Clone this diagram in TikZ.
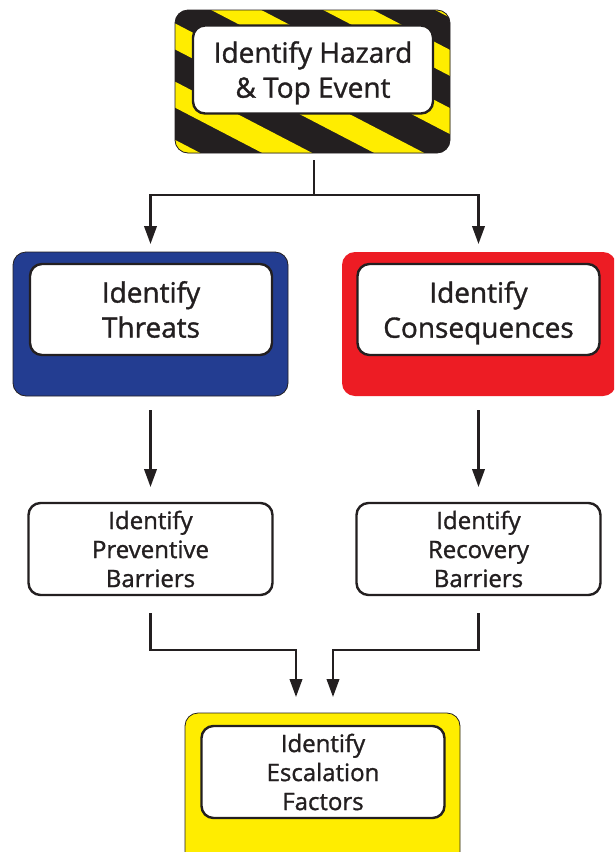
\documentclass[tikz,border=0pt]{standalone}
\usepackage{fontspec}
\setmainfont{Open Sans}[FakeBold=1.2]
\usetikzlibrary{arrows.meta,calc}
\definecolor{ink}{HTML}{231F20}
\definecolor{hazY}{HTML}{FFED00}
\definecolor{thrB}{HTML}{233D91}
\definecolor{conR}{HTML}{ED1C24}
\newcommand{\nodepth}[1]{\raisebox{0pt}[\height][0pt]{#1}}
\begin{document}
\begin{tikzpicture}[x=1pt,y=-1pt,
  outerbox/.style={rectangle, rounded corners=13pt, inner sep=0pt, outer sep=0pt},
  innerbox/.style={rectangle, rounded corners=12pt, draw=ink, line width=2.4pt, fill=white,
    align=center, text=ink, inner sep=0pt, outer sep=0pt},
  bigtext/.style={font=\fontsize{28}{35}\selectfont},
  smalltext/.style={font=\fontsize{24}{29}\selectfont},
  conn/.style={line width=2.3pt, draw=ink, -{Triangle[length=18pt,width=12.5pt]}}]
\clip (0,0) rectangle (614,852);
\fill[white] (0,0) rectangle (614,852);

% Hazard box
\node[outerbox, fill=ink, minimum width=275pt, minimum height=143pt] (hazO) at (312.5,81.5) {};
\begin{scope}
  \clip[rounded corners=13pt] (hazO.south west) rectangle (hazO.north east);
  \foreach \k in {-3,...,4} {
    \pgfmathsetmacro{\c}{80+112*\k}
    \fill[hazY] (\c,0) -- (\c+50,0) -- (\c+50+327,170) -- (\c+327,170) -- cycle;
  }
\end{scope}
\draw[ink, line width=0.8pt, rounded corners=13pt] (hazO.south west) rectangle (hazO.north east);
\node[innerbox, bigtext, minimum width=240pt, minimum height=88pt] (hazI) at (313,69.5) {Identify Hazard\\\nodepth{\& Top Event}};

% Threats
\node[outerbox, fill=thrB, draw=ink, line width=0.8pt, minimum width=275pt, minimum height=144pt] (blueO) at (150.5,324) {};
\node[innerbox, bigtext, minimum width=242pt, minimum height=91pt] (blueI) at (151,309.5) {Identify\\Threats};

% Consequences
\node[outerbox, fill=conR, minimum width=274pt, minimum height=144pt] (redO) at (479,324) {};
\node[innerbox, bigtext, minimum width=242pt, minimum height=91pt] (redI) at (478.5,309.5) {Identify\\\nodepth{Consequences}};

% Barriers
\node[innerbox, smalltext, minimum width=244pt, minimum height=92pt] (prevB) at (150.5,549) {Identify\\Preventive\\Barriers};
\node[innerbox, smalltext, minimum width=244pt, minimum height=92pt] (recB) at (478.5,549) {Identify\\Recovery\\Barriers};

% Escalation
\node[outerbox, fill=hazY, draw=ink, line width=0.8pt, minimum width=275pt, minimum height=160pt] (yelO) at (322.5,793) {};
\node[innerbox, smalltext, minimum width=243pt, minimum height=92pt] (yelI) at (323,772) {Identify\\Escalation\\Factors};

% Connectors
\draw[conn, shorten <=7pt, shorten >=8pt] ([xshift=1.5pt]hazO.south) -- ++(0,42) -| (blueO.north);
\draw[conn, shorten <=7pt, shorten >=8pt] ([xshift=1.5pt]hazO.south) -- ++(0,42) -| (recB.north |- redO.north);
\draw[conn, shorten <=14pt, shorten >=16pt] (blueO.south) -- (prevB.north);
\draw[conn, shorten <=14pt, shorten >=16pt] (recB.north |- redO.south) -- (recB.north);
\draw[conn, shorten <=18pt, shorten >=16pt] (prevB.south) -- ++(0,55) -| ([xshift=-26.5pt]yelO.north);
\draw[conn, shorten <=18pt, shorten >=16pt] (recB.south) -- ++(0,55) -| ([xshift=10.5pt]yelO.north);
\end{tikzpicture}
\end{document}
